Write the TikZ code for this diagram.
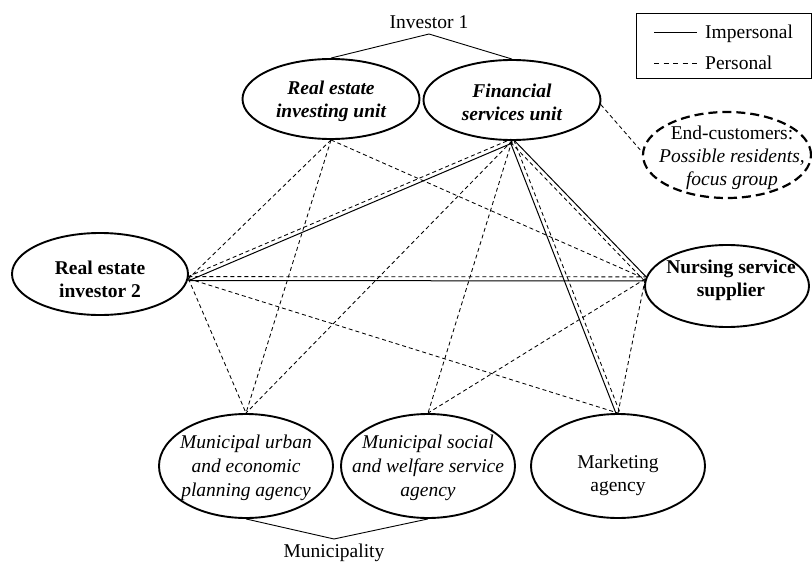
\documentclass[tikz,border=0pt]{standalone}
\usepackage{fontspec}
\setmainfont{Liberation Serif}
\usetikzlibrary{shapes.geometric,calc}

\begin{document}
\begin{tikzpicture}[x=1pt,y=-1pt,
  oval/.style={ellipse,draw,line width=1.9pt,inner sep=0pt},
  base/.style={align=center,inner sep=0pt},
  lr/.style={base,font=\fontsize{19.5}{23}\selectfont},
  li/.style={base,font=\fontsize{19.5}{24}\selectfont\itshape},
  lb/.style={base,font=\fontsize{19.5}{23}\selectfont\bfseries},
  lbi/.style={base,font=\fontsize{19.5}{23}\selectfont\bfseries\itshape},
  per/.style={line width=0.85pt,dash pattern=on 4pt off 3pt},
  imp/.style={line width=1.0pt},
  grp/.style={line width=0.9pt},
]
\useasboundingbox (0,0) rectangle (812,562);

% ---- actors ----
\node[oval,minimum width=177pt,minimum height=80pt] (reiu) at (331,99) {};
\node[lbi] (reiut) at (331,101) {Real estate\\investing unit};

\node[oval,minimum width=177pt,minimum height=80pt] (fsu) at (512,100) {};
\node[lbi] (fsut) at (512,102) {Financial\\services unit};

\node[oval,minimum width=176pt,minimum height=82pt] (rei2) at (100,274) {};
\node[lb] (rei2t) at (100,279) {Real estate\\investor 2};

\node[oval,minimum width=164pt,minimum height=82pt] (nss) at (727,286) {};
\node[lb] (nsst) at (731,280) {Nursing service\\supplier};

\node[oval,dash pattern=on 9pt off 5pt,line width=2.2pt,
      minimum width=168pt,minimum height=86pt] (ec) at (727,155) {};
\node[lr] (ect) at (732,158) {End-customers:\\\textit{Possible residents,}\\\textit{focus group}};

\node[oval,minimum width=174pt,minimum height=104pt] (mu) at (246,466) {};
\node[li] (mut) at (246,468) {Municipal urban\\and economic\\planning agency};

\node[oval,minimum width=174pt,minimum height=104pt] (ms) at (428,466) {};
\node[li] (mst) at (428,468) {Municipal social\\and welfare service\\agency};

\node[oval,minimum width=174pt,minimum height=104pt] (ma) at (618,466) {};
\node[lr] (mat) at (618,475) {Marketing\\agency};

% ---- organisation brackets ----
\node[lr,anchor=base] (inv1) at (429,28) {Investor 1};
\coordinate (inv1tip) at (429,34);
\draw[grp] (reiu.north) -- (inv1tip) -- (fsu.north);

\node[lr,anchor=base] (muni) at (334,557) {Municipality};
\coordinate (munitip) at (334,539);
\draw[grp] (mu.south) -- (munitip) -- (ms.south);

% ---- legend ----
\draw[line width=0.9pt] (636,13) rectangle (811.5,78);
\coordinate (lg1a) at (654,32); \coordinate (lg1b) at (697,32);
\coordinate (lg2a) at (654,63); \coordinate (lg2b) at (697,63);
\draw[imp] (lg1a) -- (lg1b);
\draw[line width=0.8pt,dash pattern=on 5pt off 4.5pt] (lg2a) -- (lg2b);
\node[lr,anchor=base west] (lgimp) at (705,38) {Impersonal};
\node[lr,anchor=base west] (lgper) at (705,69) {Personal};

% ---- single personal links ----
\draw[per] (reiu.south) -- (rei2.-3);
\draw[per] (reiu.south) -- (mu.north);
\draw[per] (reiu.south) -- (nss.175);
\draw[per] (fsu.south) -- (mu.north);
\draw[per] (fsu.south) -- (ms.north);
\draw[per] (fsu.-3) -- (ec.178);
\draw[per] (rei2.-3) -- (mu.north);
\draw[per] (rei2.-3) -- (ma.north);
\draw[per] (nss.175) -- (ms.north);
\draw[per] (nss.175) -- (ma.north);

% ---- paired links: impersonal and personal side by side ----
\draw[per] ($(rei2.-3)!2pt!90:(fsu.south)$) -- ($(fsu.south)!2pt!-90:(rei2.-3)$);
\draw[imp] ($(rei2.-3)!2pt!-90:(fsu.south)$) -- ($(fsu.south)!2pt!90:(rei2.-3)$);

\draw[per] ($(rei2.-3)!2pt!90:(nss.175)$) -- ($(nss.175)!2pt!-90:(rei2.-3)$);
\draw[imp] ($(rei2.-3)!2pt!-90:(nss.175)$) -- ($(nss.175)!2pt!90:(rei2.-3)$);

\draw[imp] ($(fsu.south)!2pt!90:(nss.175)$) -- ($(nss.175)!2pt!-90:(fsu.south)$);
\draw[per] ($(fsu.south)!2pt!-90:(nss.175)$) -- ($(nss.175)!2pt!90:(fsu.south)$);

\draw[per] ($(fsu.south)!2pt!90:(ma.north)$) -- ($(ma.north)!2pt!-90:(fsu.south)$);
\draw[imp] ($(fsu.south)!2pt!-90:(ma.north)$) -- ($(ma.north)!2pt!90:(fsu.south)$);
\end{tikzpicture}
\end{document}
